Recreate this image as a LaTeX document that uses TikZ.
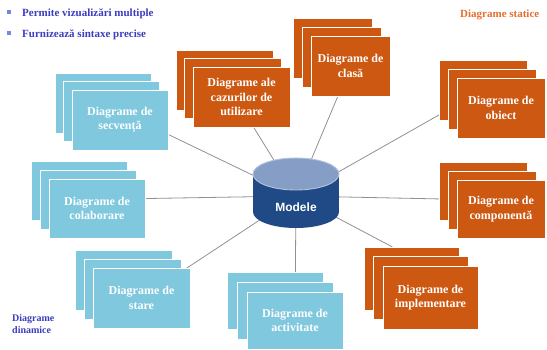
\documentclass[tikz,border=0pt]{standalone}
\usepackage{fontspec}
\setmainfont{Liberation Serif}
\newfontfamily\sansbold{Liberation Sans}
\usetikzlibrary{calc}
\pgfdeclarelayer{background}
\pgfsetlayers{background,main}

\definecolor{staticfill}{RGB}{204,88,18}
\definecolor{dynfill}{RGB}{128,200,222}
\definecolor{cylbody}{RGB}{31,74,133}
\definecolor{cyltop}{RGB}{134,158,198}
\definecolor{cylrim}{RGB}{178,194,222}
\definecolor{linkgray}{RGB}{145,145,145}
\definecolor{headblue}{RGB}{60,60,190}
\definecolor{headorange}{RGB}{228,110,45}
\definecolor{bulletblue}{RGB}{120,135,215}

\tikzset{
  diagbox/.style={rectangle, draw=white, line width=0.7pt, inner sep=0pt,
    outer sep=0pt, anchor=north west, text=white, align=center,
    font=\bfseries\fontsize{12}{14.5}\selectfont},
  staticbox/.style={diagbox, fill=staticfill},
  dynbox/.style={diagbox, fill=dynfill},
  link/.style={draw=linkgray, line width=0.8pt},
  heading/.style={font=\bfseries\fontsize{11}{13}\selectfont,
    anchor=base west, inner sep=0pt},
  bullet/.style={rectangle, fill=bulletblue, minimum size=4, inner sep=0pt},
}

% three stacked sheets: name, style, x, y (back sheet), width, height, step, text
\newcommand\diagstack[8]{%
  \node[#2, minimum width=#5, minimum height=#6] (#1-1) at (#3,#4) {};
  \node[#2, minimum width=#5, minimum height=#6] (#1-2) at ($(#1-1.north west)+(#7,#7)$) {};
  \node[#2, minimum width=#5, minimum height=#6] (#1-3) at ($(#1-2.north west)+(#7,#7)$) {#8};
}

\begin{document}
\begin{tikzpicture}[x=1pt,y=-1pt]
\useasboundingbox (0,0) rectangle (547,349);

% headings
\node[bullet] (b1) at (9,12) {};
\node[heading, text=headblue] (h1) at (22,16) {Permite vizualizări multiple};
\node[bullet] (b2) at (9,33) {};
\node[heading, text=headblue] (h2) at (22,37) {Furnizează sintaxe precise};
\node[heading, text=headorange] (static-title) at (460,17) {Diagrame statice};
\node[heading, text=headblue, anchor=north west, align=left,
      font=\bfseries\fontsize{10}{12}\selectfont] (dyn-title) at (12,314) {Diagrame\\dinamice};

% central model
\node[minimum width=86, minimum height=70, inner sep=0pt] (model) at (296,196) {};

% static diagrams
\diagstack{caz}{staticbox}{176}{50}{97}{60}{8.5}{Diagrame ale\\cazurilor de\\utilizare}
\diagstack{clasa}{staticbox}{293}{18}{79}{60}{9}{Diagrame de\\clasă}
\diagstack{obiect}{staticbox}{439}{60}{88}{60}{9}{Diagrame de\\obiect}
\diagstack{comp}{staticbox}{439}{162}{88}{58}{9}{Diagrame de\\componentă}
\diagstack{impl}{staticbox}{364}{247}{95}{63}{9.5}{Diagrame de\\implementare}

% dynamic diagrams
\diagstack{secv}{dynbox}{55}{73}{96}{60}{8.5}{Diagrame de\\secvență}
\diagstack{colab}{dynbox}{31}{161}{96}{59}{9}{Diagrame de\\colaborare}
\diagstack{stare}{dynbox}{75}{250}{97}{60}{9}{Diagrame de\\stare}
\diagstack{activ}{dynbox}{227}{272}{96}{57}{10}{Diagrame de\\activitate}

% connectors from the model to each group
\begin{pgfonlayer}{background}
  \draw[link] (model.center) -- (secv-1.center);
  \draw[link] (model.center) -- (caz-1.center);
  \draw[link] (model.center) -- (clasa-3.center);
  \draw[link] (model.center) -- (obiect-1.center);
  \draw[link] (model.center) -- (colab-2.center);
  \draw[link] (model.center) -- (comp-2.center);
  \draw[link] (model.center) -- (stare-3.center);
  \draw[link] (model.center) -- (activ-3.center);
  \draw[link] (model.center) -- ($(impl-1.north west)!0.3!(impl-1.north east)$);
\end{pgfonlayer}

% cylinder
\fill[cylbody] (296,212) ellipse[x radius=43, y radius=16];
\fill[cylbody] (253,174) rectangle (339,212);
\filldraw[fill=cyltop, draw=cylrim, line width=0.9pt] (296,174) ellipse[x radius=43, y radius=16];
\node[font=\sansbold\bfseries\fontsize{12}{14}\selectfont, text=white] (model-label) at (296,207) {Modele};
\end{tikzpicture}
\end{document}
